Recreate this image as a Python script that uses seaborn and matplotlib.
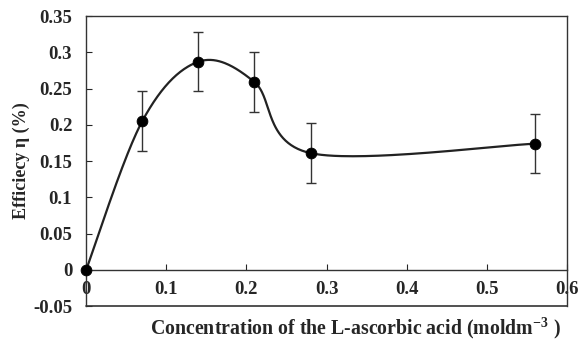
import numpy as np
import pandas as pd
import matplotlib
matplotlib.use("Agg")
import matplotlib.pyplot as plt
import seaborn as sns

# data
conc = [0.0, 0.07, 0.14, 0.21, 0.28, 0.56]
eff = [0.0, 0.205, 0.287, 0.259, 0.161, 0.174]
err = [0.0, 0.041, 0.041, 0.041, 0.041, 0.041]
yticks = [-0.05, 0, 0.05, 0.1, 0.15, 0.2, 0.25, 0.3, 0.35]
ytick_labels = ["-0.05", "0", "0.05", "0.1", "0.15", "0.2", "0.25", "0.3", "0.35"]
xticks = [0, 0.1, 0.2, 0.3, 0.4, 0.5, 0.6]
xtick_labels = ["0", "0.1", "0.2", "0.3", "0.4", "0.5", "0.6"]

sns.set_style("ticks")
plt.rcParams["font.family"] = ["Liberation Serif", "DejaVu Serif"]
plt.rcParams["font.weight"] = "bold"
plt.rcParams["mathtext.fontset"] = "custom"
plt.rcParams["mathtext.rm"] = "Liberation Serif:bold"
plt.rcParams["mathtext.it"] = "Liberation Serif:bold"
plt.rcParams["mathtext.bf"] = "Liberation Serif:bold"


def smooth_curve(x, y, n=60):
    # Excel-like smoothed line (Catmull-Rom style bezier)
    pts = np.column_stack([x, y])
    out = []
    for i in range(len(pts) - 1):
        p0 = pts[max(i - 1, 0)]
        p1 = pts[i]
        p2 = pts[i + 1]
        p3 = pts[min(i + 2, len(pts) - 1)]
        c1 = p1 + (p2 - p0) / 6
        c2 = p2 - (p3 - p1) / 6
        t = np.linspace(0, 1, n)[:, None]
        seg = ((1 - t) ** 3) * p1 + 3 * ((1 - t) ** 2) * t * c1 \
            + 3 * (1 - t) * t ** 2 * c2 + t ** 3 * p2
        out.append(seg if i == 0 else seg[1:])
    out = np.vstack(out)
    return out[:, 0], out[:, 1]


sx, sy = smooth_curve(np.array(conc), np.array(eff))
curve = pd.DataFrame({"x": sx, "y": sy})
df = pd.DataFrame({"conc": conc, "eff": eff})

fig, ax = plt.subplots(figsize=(5.78, 3.42), dpi=100)
fig.subplots_adjust(left=0.149, right=0.981, top=0.953, bottom=0.105)

sns.lineplot(data=curve, x="x", y="y", sort=False, color="#222222",
             linewidth=1.6, ax=ax, zorder=2)
ax.errorbar(conc[1:], eff[1:], yerr=err[1:], fmt="none", ecolor="#333333",
            elinewidth=1.0, capsize=3.5, capthick=1.0, zorder=3)
sns.scatterplot(data=df, x="conc", y="eff", color="black", s=60,
                edgecolor="black", ax=ax, zorder=4, clip_on=False)

ax.set_xlim(0, 0.6)
ax.set_ylim(-0.05, 0.35)
ax.set_xticks(xticks)
ax.set_xticklabels(xtick_labels)
ax.set_yticks(yticks)
ax.set_yticklabels(ytick_labels)

# x axis crosses at y = 0, box closed at the bottom
ax.spines["bottom"].set_position(("data", 0))
for s in ax.spines.values():
    s.set_linewidth(1.0)
    s.set_color("#333333")
ax.plot([0, 1], [0, 0], transform=ax.transAxes, color="#333333",
        linewidth=1.2, clip_on=False)

ax.tick_params(axis="x", direction="in", length=4, pad=8, labelsize=13.5)
ax.tick_params(axis="y", direction="in", length=4, pad=10, labelsize=13.5)
ax.tick_params(top=False, right=False)

ax.set_xlabel(r"Concentration of the L-ascorbic acid (moldm$^{-3}$ )",
              fontsize=14.3, fontweight="bold")
ax.xaxis.set_label_coords(0.56, -0.033)
ax.set_ylabel("Efficiecy η (%)", fontsize=13, fontweight="bold", labelpad=2)

plt.savefig("out.png", dpi=100)
